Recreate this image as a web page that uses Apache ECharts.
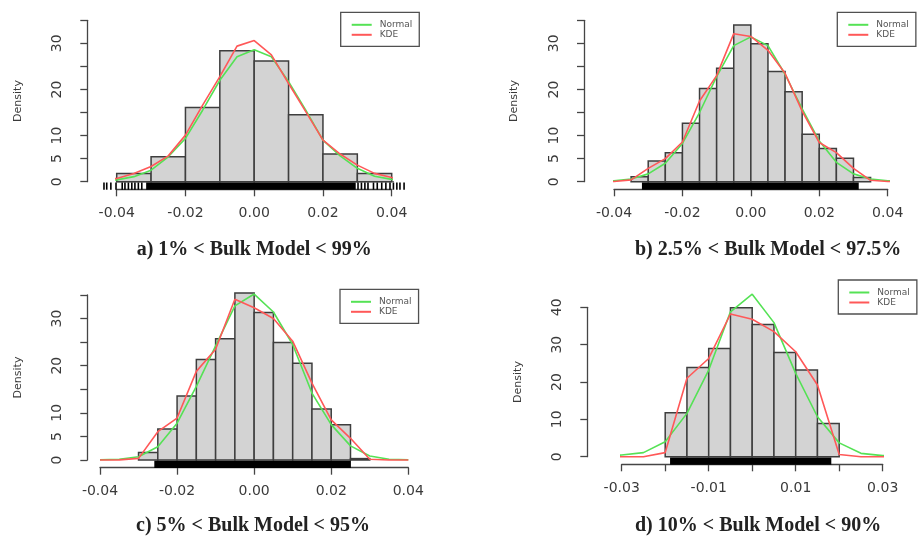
<!DOCTYPE html>
<html>
<head>
<meta charset="utf-8">
<script src="https://cdn.jsdelivr.net/npm/echarts@6/dist/echarts.min.js"></script>
<style>
  html, body { margin: 0; padding: 0; background: #fff; }
  #chart { width: 919px; height: 539px; }
</style>
</head>
<body>
<div id="chart"></div>
<script>
// ---------- a) 1% < Bulk Model < 99% ----------
const aBreaks  = [-0.04, -0.03, -0.02, -0.01, 0, 0.01, 0.02, 0.03, 0.04];
const aDensity = [1.8, 5.4, 16.1, 28.4, 26.2, 14.5, 6.0, 1.8];
const aCurveX  = [-0.045, -0.04, -0.035, -0.03, -0.025, -0.02, -0.015, -0.01, -0.005, 0,
                  0.005, 0.01, 0.015, 0.02, 0.025, 0.03, 0.035, 0.04, 0.045];
const aNormal  = [0.15, 0.4, 1.1, 2.5, 5.4, 9.4, 15.5, 22.0, 27.1, 28.6,
                  27.1, 21.7, 15.5, 9.0, 5.6, 2.9, 1.2, 0.5, 0.1];
const aKde     = [0.3, 0.7, 1.8, 3.3, 5.6, 10.1, 16.6, 22.8, 29.4, 30.6,
                  27.5, 21.3, 15.2, 9.0, 6.0, 3.6, 1.8, 0.9, 0.2];
const aRugSpans = [[-0.0312, 0.0293]];
const aRugTicks = [-0.0437, -0.0429, -0.0417, -0.0402, -0.0384, -0.0376, -0.0366, -0.0356,
                   -0.0347, -0.0337, -0.0327, 0.0302, 0.0312, 0.0322, 0.0331, 0.0347, 0.0358,
                   0.0371, 0.0383, 0.0395, 0.0405, 0.0415, 0.0424, 0.0436];
const aZeroLine = [-0.0485, 0.0485];

// ---------- b) 2.5% < Bulk Model < 97.5% ----------
const bBreaks  = [-0.035, -0.03, -0.025, -0.02, -0.015, -0.01, -0.005, 0,
                  0.005, 0.01, 0.015, 0.02, 0.025, 0.03, 0.035];
const bDensity = [1.1, 4.5, 6.3, 12.7, 20.2, 24.6, 34.0, 29.9, 23.9, 19.5, 10.3, 7.2, 5.1, 0.9];
const bCurveX  = aCurveX;
const bNormal  = [0.1, 0.2, 0.6, 1.7, 4.0, 8.3, 15.0, 22.8, 29.5, 31.4,
                  29.5, 23.3, 15.8, 8.8, 4.2, 1.7, 0.6, 0.2, 0.1];
const bKde     = [0, 0.05, 0.4, 2.9, 5.0, 8.6, 17.5, 23.0, 32.1, 31.5,
                  28.5, 23.5, 15.3, 8.5, 6.3, 2.9, 0.3, 0.05, 0];
const bRugSpans = [[-0.0316, 0.0313]];
const bRugTicks = [];

// ---------- c) 5% < Bulk Model < 95% ----------
const cBreaks  = [-0.03, -0.025, -0.02, -0.015, -0.01, -0.005, 0,
                  0.005, 0.01, 0.015, 0.02, 0.025, 0.03];
const cDensity = [1.6, 6.6, 13.6, 21.3, 25.7, 35.4, 31.3, 24.9, 20.5, 10.8, 7.5, 0.3];
const cCurveX  = [-0.04, -0.035, -0.03, -0.025, -0.02, -0.015, -0.01, -0.005, 0,
                  0.005, 0.01, 0.015, 0.02, 0.025, 0.03, 0.035, 0.04];
const cNormal  = [0.05, 0.15, 0.7, 2.8, 7.8, 15.6, 24.2, 32.7, 35.2,
                  31.4, 24.5, 14.2, 7.5, 3.0, 0.85, 0.15, 0.05];
const cKde     = [0, 0.02, 0.35, 6.0, 8.9, 18.8, 23.5, 34.1, 32.3,
                  30.0, 25.2, 16.3, 8.5, 4.6, 0.15, 0, 0];
const cRugSpans = [[-0.0257, 0.0249]];
const cRugTicks = [];

// ---------- d) 10% < Bulk Model < 90% ----------
const dBreaks  = [-0.02, -0.015, -0.01, -0.005, 0, 0.005, 0.01, 0.015, 0.02];
const dDensity = [11.8, 23.9, 29.0, 39.9, 35.4, 27.9, 23.2, 8.9];
const dNormalX = [-0.0325, -0.03, -0.025, -0.02, -0.015, -0.01, -0.005, 0,
                  0.005, 0.01, 0.015, 0.02, 0.025, 0.03, 0.0325];
const dNormal  = [0.25, 0.45, 1.1, 4.0, 11.6, 23.2, 38.8, 43.5,
                  35.9, 22.3, 10.7, 3.7, 0.9, 0.3, 0.2];
const dKdeX    = [-0.035, -0.03, -0.025, -0.02, -0.015, -0.01, -0.005, 0,
                  0.005, 0.01, 0.015, 0.02, 0.025, 0.03, 0.035];
const dKde     = [0, 0, 0, 1.1, 21.0, 26.3, 38.2, 36.8, 33.5, 28.1, 19.2, 0.6, 0, 0, 0];
const dRugSpans = [[-0.0187, 0.0180]];
const dRugTicks = [];

// ---------- tick labels ----------
const xLabelsWide   = ['-0.04', '-0.02', '0.00', '0.02', '0.04'];
const xLabelsNarrow = ['-0.03', '', '-0.01', '', '0.01', '', '0.03'];
const yShown35 = [0, 5, 10, 20, 30];
const yShown40 = [0, 10, 20, 30, 40];

const captions = [
  'a) 1% < Bulk Model < 99%',
  'b) 2.5% < Bulk Model < 97.5%',
  'c) 5% < Bulk Model < 95%',
  'd) 10% < Bulk Model < 90%'
];

// ---------- styles ----------
const GREEN = '#55e255';
const RED = '#ff5858';
const AXIS = '#454545';
const LABEL_FONT = 'DejaVu Sans';

// layout of the four panels (pixel boxes of the plotting regions)
const layouts = [
  { grid: { left: 116.7, top: 20.3, width: 275, height: 161.4 }, yOff: 29.4, xOff: 7.6,
    xMin: -0.04, xMax: 0.04, xInt: 0.02, yMax: 35, yInt: 5, xLabels: xLabelsWide, yShown: yShown35,
    legend: { left: 340.7, top: 12.3 }, caption: { x: 136.7, y: 250 } },
  { grid: { left: 614, top: 20.3, width: 273.7, height: 161.4 }, yOff: 30, xOff: 7.6,
    xMin: -0.04, xMax: 0.04, xInt: 0.02, yMax: 35, yInt: 5, xLabels: xLabelsWide, yShown: yShown35,
    legend: { left: 837.3, top: 12.3 }, caption: { x: 635, y: 250 } },
  { grid: { left: 100, top: 295, width: 308.3, height: 165 }, yOff: 12.7, xOff: 7.7,
    xMin: -0.04, xMax: 0.04, xInt: 0.02, yMax: 35, yInt: 5, xLabels: xLabelsWide, yShown: yShown35,
    legend: { left: 340, top: 289.3 }, caption: { x: 136, y: 526 } },
  { grid: { left: 621.7, top: 307.3, width: 261, height: 149.4 }, yOff: 34.4, xOff: 7.6,
    xMin: -0.03, xMax: 0.03, xInt: 0.01, yMax: 40, yInt: 10, xLabels: xLabelsNarrow, yShown: yShown40,
    legend: { left: 838.3, top: 280 }, caption: { x: 635, y: 526 } }
];

const panels = [
  { breaks: aBreaks, dens: aDensity, nx: aCurveX, ny: aNormal, kx: aCurveX, ky: aKde,
    spans: aRugSpans, ticks: aRugTicks, zero: aZeroLine },
  { breaks: bBreaks, dens: bDensity, nx: bCurveX, ny: bNormal, kx: bCurveX, ky: bKde,
    spans: bRugSpans, ticks: bRugTicks, zero: null },
  { breaks: cBreaks, dens: cDensity, nx: cCurveX, ny: cNormal, kx: cCurveX, ky: cKde,
    spans: cRugSpans, ticks: cRugTicks, zero: null },
  { breaks: dBreaks, dens: dDensity, nx: dNormalX, ny: dNormal, kx: dKdeX, ky: dKde,
    spans: dRugSpans, ticks: dRugTicks, zero: null }
];

const grids = [], xAxes = [], yAxes = [], series = [], legends = [], graphics = [];

layouts.forEach((L, i) => {
  const P = panels[i];
  grids.push(Object.assign({ containLabel: false }, L.grid));

  xAxes.push({
    type: 'value', gridIndex: i, min: L.xMin, max: L.xMax, interval: L.xInt,
    offset: L.xOff, splitLine: { show: false },
    axisLine: { show: true, onZero: false, lineStyle: { color: AXIS, width: 1.3 } },
    axisTick: { show: true, length: 7, lineStyle: { color: AXIS, width: 1.3 } },
    axisLabel: {
      margin: 17, fontSize: 14, fontFamily: LABEL_FONT, color: '#3a3a3a',
      showMinLabel: true, showMaxLabel: true,
      formatter: (v, idx) => L.xLabels[idx] !== undefined ? L.xLabels[idx] : ''
    }
  });

  yAxes.push({
    type: 'value', gridIndex: i, min: 0, max: L.yMax, interval: L.yInt,
    offset: L.yOff, splitLine: { show: false },
    name: 'Density', nameLocation: 'middle', nameRotate: 90, nameGap: 64,
    nameTextStyle: { fontSize: 11, fontFamily: LABEL_FONT, color: '#3a3a3a' },
    axisLine: { show: true, onZero: false, lineStyle: { color: AXIS, width: 1.3 } },
    axisTick: { show: true, length: 7, lineStyle: { color: AXIS, width: 1.3 } },
    axisLabel: {
      rotate: 90, margin: 23, fontSize: 14, fontFamily: LABEL_FONT, color: '#3a3a3a',
      showMinLabel: true, showMaxLabel: true,
      formatter: v => L.yShown.indexOf(Math.round(v)) >= 0 ? String(Math.round(v)) : ''
    }
  });

  // zero reference segment
  if (P.zero) {
    series.push({
      type: 'line', name: 'zero', xAxisIndex: i, yAxisIndex: i, silent: true, clip: false,
      symbol: 'none', z: 1, lineStyle: { color: '#7a7a7a', width: 1.3 },
      data: [[P.zero[0], 0], [P.zero[1], 0]]
    });
  }

  // histogram bars
  series.push({
    type: 'custom', name: 'hist', xAxisIndex: i, yAxisIndex: i, silent: true, clip: false, z: 2,
    encode: { x: [0, 1], y: 2 },
    data: P.dens.map((h, k) => [P.breaks[k], P.breaks[k + 1], h]),
    renderItem: (params, api) => {
      const tl = api.coord([api.value(0), api.value(2)]);
      const br = api.coord([api.value(1), 0]);
      return {
        type: 'rect',
        shape: { x: tl[0], y: tl[1], width: br[0] - tl[0], height: br[1] - tl[1] },
        style: { fill: '#d3d3d3', stroke: '#3e3e3e', lineWidth: 1.5 }
      };
    }
  });

  // rug of observations, sitting on the x axis line
  const rugData = P.spans.map(s => [s[0], s[1]]).concat(P.ticks.map(t => [t, t]));
  const rugDepth = L.xOff;
  series.push({
    type: 'custom', name: 'rug', xAxisIndex: i, yAxisIndex: i, silent: true, clip: false, z: 4,
    encode: { x: [0, 1] },
    data: rugData,
    renderItem: (params, api) => {
      const p0 = api.coord([api.value(0), 0]);
      const p1 = api.coord([api.value(1), 0]);
      const w = Math.max(p1[0] - p0[0], 0) + 1.6;
      return {
        type: 'rect',
        shape: { x: p0[0] - 0.8, y: p0[1] + 0.8, width: w, height: rugDepth - 0.4 },
        style: { fill: '#000' }
      };
    }
  });

  // fitted normal density
  series.push({
    type: 'line', name: 'Normal', xAxisIndex: i, yAxisIndex: i, clip: false, silent: true,
    symbol: 'none', z: 5, color: GREEN,
    lineStyle: { color: GREEN, width: 1.6 },
    data: P.nx.map((x, k) => [x, P.ny[k]])
  });

  // kernel density estimate
  series.push({
    type: 'line', name: 'KDE', xAxisIndex: i, yAxisIndex: i, clip: false, silent: true,
    symbol: 'none', z: 6, color: RED,
    lineStyle: { color: RED, width: 1.6 },
    data: P.kx.map((x, k) => [x, P.ky[k]])
  });

  legends.push({
    data: ['Normal', 'KDE'], orient: 'vertical', icon: 'rect',
    left: L.legend.left, top: L.legend.top,
    itemWidth: 20, itemHeight: 2, itemGap: 1, selectedMode: false,
    padding: [8, 7, 7, 11],
    borderColor: '#505050', borderWidth: 1.3, borderRadius: 0,
    textStyle: { fontSize: 9, fontFamily: LABEL_FONT, color: '#555', padding: [0, 0, 0, 3] }
  });

  graphics.push({
    type: 'text', x: L.caption.x, y: L.caption.y, silent: true,
    style: {
      text: captions[i], font: 'bold 20px "Liberation Serif"', fill: '#222',
      align: 'left', verticalAlign: 'middle'
    }
  });
});

const chart = echarts.init(document.getElementById('chart'), null, { renderer: 'canvas' });
chart.setOption({
  backgroundColor: '#fff',
  animation: false,
  grid: grids,
  xAxis: xAxes,
  yAxis: yAxes,
  legend: legends,
  series: series,
  graphic: graphics
});
</script>
</body>
</html>
